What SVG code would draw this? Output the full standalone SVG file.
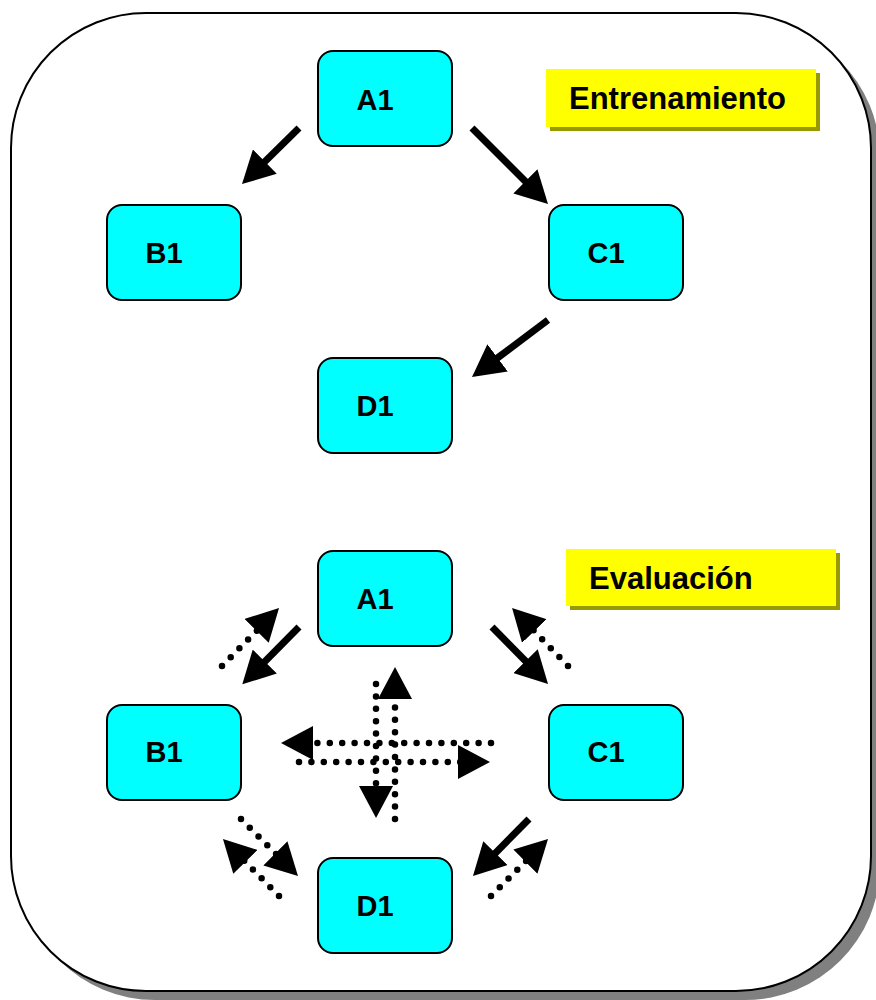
<svg xmlns="http://www.w3.org/2000/svg" width="876" height="1000" viewBox="0 0 876 1000">
<style>
.frame{fill:#ffffff;stroke:#000000;stroke-width:2}
.frameShadow{fill:#808080}
.node{fill:#00ffff;stroke:#000000;stroke-width:2}
.nt{font-family:"Liberation Sans",Arial,sans-serif;font-weight:bold;font-size:29px;fill:#000000;text-anchor:middle}
.lbl{fill:#ffff00}
.lblShadow{fill:#999900}
.lt{font-family:"Liberation Sans",Arial,sans-serif;font-weight:bold;font-size:31px;fill:#000000}
.solid{stroke:#000000;stroke-width:7;fill:none;marker-end:url(#head)}
.dot{stroke:#000000;stroke-width:6.5;fill:none;stroke-linecap:round;stroke-dasharray:0 12.4;marker-end:url(#head)}
</style>
<defs>
<marker id="head" viewBox="0 0 32 34" refX="3" refY="17" markerWidth="32" markerHeight="34" markerUnits="userSpaceOnUse" orient="auto">
<path d="M0,0 L32,17 L0,34 Z" fill="#000000"/>
</marker>
</defs>
<g id="frame">
<rect class="frameShadow" x="20" y="22" width="860" height="978" rx="135" ry="135"/>
<rect class="frame" x="11" y="13" width="860" height="978" rx="135" ry="135"/>
</g>
<g id="label-entrenamiento">
<rect class="lblShadow" x="550" y="73" width="270" height="58"/>
<rect class="lbl" x="546" y="69" width="270" height="58"/>
<text class="lt" x="569" y="109">Entrenamiento</text>
</g>
<g id="label-evaluacion">
<rect class="lblShadow" x="570" y="553" width="270" height="57"/>
<rect class="lbl" x="566" y="549" width="270" height="57"/>
<text class="lt" x="589" y="589">Evaluación</text>
</g>
<g id="train-A1"><rect class="node" x="318" y="51" width="134" height="95" rx="15"/><text class="nt" x="375" y="110">A1</text></g>
<g id="train-B1"><rect class="node" x="107" y="205" width="134" height="95" rx="15"/><text class="nt" x="164" y="263">B1</text></g>
<g id="train-C1"><rect class="node" x="549" y="205" width="134" height="95" rx="15"/><text class="nt" x="606" y="263">C1</text></g>
<g id="train-D1"><rect class="node" x="318" y="358" width="134" height="95" rx="15"/><text class="nt" x="375" y="416">D1</text></g>
<g id="eval-A1"><rect class="node" x="318" y="551" width="134" height="95" rx="15"/><text class="nt" x="375" y="609">A1</text></g>
<g id="eval-B1"><rect class="node" x="107" y="705" width="134" height="95" rx="15"/><text class="nt" x="164" y="762">B1</text></g>
<g id="eval-C1"><rect class="node" x="549" y="705" width="134" height="95" rx="15"/><text class="nt" x="606" y="762">C1</text></g>
<g id="eval-D1"><rect class="node" x="318" y="858" width="134" height="95" rx="15"/><text class="nt" x="375" y="916">D1</text></g>
<g id="connectors">
<line class="solid" x1="299" y1="128" x2="262.7" y2="163.7"/>
<line class="solid" x1="472" y1="128" x2="527.5" y2="183.5"/>
<line class="solid" x1="548" y1="320" x2="495.2" y2="359.6"/>
<line class="solid" x1="299" y1="627" x2="262.7" y2="663.7"/>
<line class="dot" x1="222" y1="666" x2="258.7" y2="628.7"/>
<line class="solid" x1="492" y1="627" x2="527.7" y2="663.3"/>
<line class="dot" x1="568" y1="666" x2="532.2" y2="628.9"/>
<line class="dot" x1="395" y1="819" x2="395" y2="696"/>
<line class="dot" x1="376" y1="684" x2="376" y2="789"/>
<line class="dot" x1="491" y1="743" x2="310" y2="743"/>
<line class="dot" x1="299" y1="762" x2="461" y2="762"/>
<line class="dot" x1="241" y1="819" x2="277.5" y2="855.5"/>
<line class="dot" x1="279" y1="896" x2="243.3" y2="859.7"/>
<line class="solid" x1="529" y1="819" x2="493.3" y2="855.3"/>
<line class="dot" x1="491" y1="896" x2="527.5" y2="859.5"/>
</g>
</svg>
